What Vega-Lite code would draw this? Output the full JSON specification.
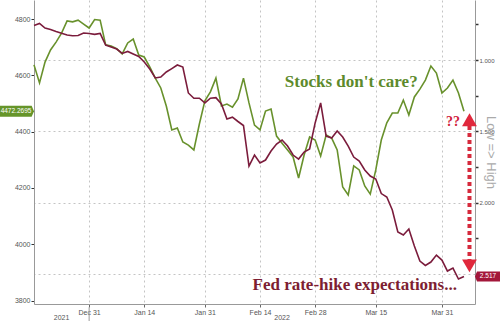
{
  "$schema": "https://vega.github.io/schema/vega-lite/v6.json",
  "width": 441,
  "height": 304,
  "autosize": "none",
  "padding": {"left": 34, "top": 0, "right": 25, "bottom": 17},
  "background": "white",
  "config": {"view": {"stroke": null}, "font": "Liberation Sans"},
  "datasets": {
    "series": [
      {"date": "2021-12-17", "spx": 4637, "hike": 0.758},
      {"date": "2021-12-20", "spx": 4573, "hike": 0.744},
      {"date": "2021-12-21", "spx": 4647, "hike": 0.776},
      {"date": "2021-12-22", "spx": 4690, "hike": 0.786},
      {"date": "2021-12-23", "spx": 4718, "hike": 0.800},
      {"date": "2021-12-24", "spx": 4750, "hike": 0.813},
      {"date": "2021-12-27", "spx": 4793, "hike": 0.825},
      {"date": "2021-12-28", "spx": 4790, "hike": 0.830},
      {"date": "2021-12-29", "spx": 4796, "hike": 0.828},
      {"date": "2021-12-30", "spx": 4782, "hike": 0.811},
      {"date": "2021-12-31", "spx": 4768, "hike": 0.814},
      {"date": "2022-01-03", "spx": 4798, "hike": 0.820},
      {"date": "2022-01-04", "spx": 4796, "hike": 0.814},
      {"date": "2022-01-05", "spx": 4708, "hike": 0.895},
      {"date": "2022-01-06", "spx": 4704, "hike": 0.909},
      {"date": "2022-01-07", "spx": 4695, "hike": 0.923},
      {"date": "2022-01-10", "spx": 4676, "hike": 0.954},
      {"date": "2022-01-11", "spx": 4715, "hike": 0.940},
      {"date": "2022-01-12", "spx": 4729, "hike": 0.958},
      {"date": "2022-01-13", "spx": 4672, "hike": 0.975},
      {"date": "2022-01-14", "spx": 4665, "hike": 1.014},
      {"date": "2022-01-17", "spx": 4630, "hike": 1.063},
      {"date": "2022-01-18", "spx": 4590, "hike": 1.126},
      {"date": "2022-01-19", "spx": 4555, "hike": 1.119},
      {"date": "2022-01-20", "spx": 4491, "hike": 1.084},
      {"date": "2022-01-21", "spx": 4406, "hike": 1.060},
      {"date": "2022-01-24", "spx": 4413, "hike": 1.035},
      {"date": "2022-01-25", "spx": 4363, "hike": 1.049},
      {"date": "2022-01-26", "spx": 4352, "hike": 1.231},
      {"date": "2022-01-27", "spx": 4335, "hike": 1.268},
      {"date": "2022-01-28", "spx": 4427, "hike": 1.268},
      {"date": "2022-01-31", "spx": 4509, "hike": 1.301},
      {"date": "2022-02-01", "spx": 4541, "hike": 1.268},
      {"date": "2022-02-02", "spx": 4590, "hike": 1.264},
      {"date": "2022-02-03", "spx": 4491, "hike": 1.308},
      {"date": "2022-02-04", "spx": 4498, "hike": 1.413},
      {"date": "2022-02-07", "spx": 4487, "hike": 1.401},
      {"date": "2022-02-08", "spx": 4516, "hike": 1.431},
      {"date": "2022-02-09", "spx": 4590, "hike": 1.459},
      {"date": "2022-02-10", "spx": 4502, "hike": 1.743},
      {"date": "2022-02-11", "spx": 4423, "hike": 1.666},
      {"date": "2022-02-14", "spx": 4406, "hike": 1.722},
      {"date": "2022-02-15", "spx": 4473, "hike": 1.701},
      {"date": "2022-02-16", "spx": 4480, "hike": 1.638},
      {"date": "2022-02-17", "spx": 4384, "hike": 1.589},
      {"date": "2022-02-18", "spx": 4359, "hike": 1.561},
      {"date": "2022-02-21", "spx": 4335, "hike": 1.603},
      {"date": "2022-02-22", "spx": 4310, "hike": 1.666},
      {"date": "2022-02-23", "spx": 4235, "hike": 1.694},
      {"date": "2022-02-24", "spx": 4317, "hike": 1.645},
      {"date": "2022-02-25", "spx": 4381, "hike": 1.624},
      {"date": "2022-02-28", "spx": 4370, "hike": 1.441},
      {"date": "2022-03-01", "spx": 4313, "hike": 1.301},
      {"date": "2022-03-02", "spx": 4388, "hike": 1.533},
      {"date": "2022-03-03", "spx": 4377, "hike": 1.547},
      {"date": "2022-03-04", "spx": 4335, "hike": 1.498},
      {"date": "2022-03-07", "spx": 4203, "hike": 1.540},
      {"date": "2022-03-08", "spx": 4175, "hike": 1.603},
      {"date": "2022-03-09", "spx": 4278, "hike": 1.680},
      {"date": "2022-03-10", "spx": 4264, "hike": 1.708},
      {"date": "2022-03-11", "spx": 4207, "hike": 1.771},
      {"date": "2022-03-14", "spx": 4178, "hike": 1.813},
      {"date": "2022-03-15", "spx": 4264, "hike": 1.834},
      {"date": "2022-03-16", "spx": 4370, "hike": 1.936},
      {"date": "2022-03-17", "spx": 4431, "hike": 1.960},
      {"date": "2022-03-18", "spx": 4466, "hike": 2.051},
      {"date": "2022-03-21", "spx": 4466, "hike": 2.205},
      {"date": "2022-03-22", "spx": 4512, "hike": 2.226},
      {"date": "2022-03-23", "spx": 4459, "hike": 2.184},
      {"date": "2022-03-24", "spx": 4523, "hike": 2.303},
      {"date": "2022-03-25", "spx": 4551, "hike": 2.409},
      {"date": "2022-03-28", "spx": 4583, "hike": 2.440},
      {"date": "2022-03-29", "spx": 4633, "hike": 2.416},
      {"date": "2022-03-30", "spx": 4608, "hike": 2.367},
      {"date": "2022-03-31", "spx": 4537, "hike": 2.402},
      {"date": "2022-04-01", "spx": 4555, "hike": 2.479},
      {"date": "2022-04-04", "spx": 4583, "hike": 2.458},
      {"date": "2022-04-05", "spx": 4537, "hike": 2.535},
      {"date": "2022-04-06", "spx": 4472.27, "hike": 2.517}
    ]
  },
  "layer": [
    {
      "layer": [
        {
          "data": {"name": "series"},
          "mark": {"type": "line", "color": "#68912c", "strokeWidth": 1.6},
          "encoding": {
            "x": {
              "field": "date", "type": "ordinal", "title": null,
              "scale": {"type": "point", "padding": 0, "domain": [
                "2021-12-17","2021-12-20","2021-12-21","2021-12-22","2021-12-23","2021-12-24","2021-12-27","2021-12-28","2021-12-29","2021-12-30","2021-12-31",
                "2022-01-03","2022-01-04","2022-01-05","2022-01-06","2022-01-07","2022-01-10","2022-01-11","2022-01-12","2022-01-13","2022-01-14","2022-01-17","2022-01-18","2022-01-19","2022-01-20","2022-01-21","2022-01-24","2022-01-25","2022-01-26","2022-01-27","2022-01-28","2022-01-31",
                "2022-02-01","2022-02-02","2022-02-03","2022-02-04","2022-02-07","2022-02-08","2022-02-09","2022-02-10","2022-02-11","2022-02-14","2022-02-15","2022-02-16","2022-02-17","2022-02-18","2022-02-21","2022-02-22","2022-02-23","2022-02-24","2022-02-25","2022-02-28",
                "2022-03-01","2022-03-02","2022-03-03","2022-03-04","2022-03-07","2022-03-08","2022-03-09","2022-03-10","2022-03-11","2022-03-14","2022-03-15","2022-03-16","2022-03-17","2022-03-18","2022-03-21","2022-03-22","2022-03-23","2022-03-24","2022-03-25","2022-03-28","2022-03-29","2022-03-30","2022-03-31",
                "2022-04-01","2022-04-04","2022-04-05","2022-04-06","2022-04-07","2022-04-08"]},
              "axis": {
                "title": null,
                "values": ["2021-12-31","2022-01-14","2022-01-31","2022-02-14","2022-02-28","2022-03-15","2022-03-31"],
                "labelExpr": "utcFormat(toDate(datum.value), '%b %d')",
                "labelAngle": 0, "labelFontSize": 7, "labelColor": "#555", "labelPadding": 1,
                "tickSize": 3, "tickColor": "#666", "domainColor": "#999",
                "grid": true, "gridDash": [2, 3], "gridColor": "#c4c4c4"
              }
            },
            "y": {
              "field": "spx", "type": "quantitative", "title": null,
              "scale": {"domain": [3787.6, 4867.5], "nice": false, "zero": false},
              "axis": {
                "title": null,
                "values": [3800, 3900, 4000, 4100, 4200, 4300, 4400, 4500, 4600, 4700, 4800],
                "labelExpr": "datum.value % 200 === 0 ? format(datum.value, 'd') : ''",
                "labelFontSize": 7, "labelColor": "#555", "labelPadding": 1,
                "tickSize": 3, "tickColor": "#333", "domainColor": "#999",
                "grid": false
              }
            }
          }
        },
        {
          "data": {"values": [{"date": "2021-12-31", "spx": 3776, "spx2": 3727}]},
          "mark": {"type": "rule", "color": "#999", "strokeWidth": 1},
          "encoding": {
            "x": {"field": "date", "type": "ordinal", "title": null},
            "y": {"field": "spx", "type": "quantitative", "title": null},
            "y2": {"field": "spx2"}
          }
        },
        {
          "data": {"values": [{"date": "2021-12-24", "spx": 3738, "label": "2021"}, {"date": "2022-02-18", "spx": 3738, "label": "2022"}]},
          "mark": {"type": "text", "fontSize": 7, "color": "#555", "align": "center", "baseline": "middle"},
          "encoding": {
            "x": {"field": "date", "type": "ordinal", "title": null},
            "y": {"field": "spx", "type": "quantitative", "title": null},
            "text": {"field": "label"}
          }
        },
        {
          "data": {"values": [{"date": "2022-03-08", "spx": 4576, "label": "Stocks don't care?"}]},
          "mark": {"type": "text", "font": "Liberation Serif", "fontWeight": "bold", "fontSize": 17, "color": "#5d8a2c", "align": "center", "baseline": "middle", "dx": 3},
          "encoding": {
            "x": {"field": "date", "type": "ordinal", "title": null},
            "y": {"field": "spx", "type": "quantitative", "title": null},
            "text": {"field": "label"}
          }
        },
        {
          "data": {"values": [{"date": "2022-03-09", "spx": 3855, "label": "Fed rate-hike expectations..."}]},
          "mark": {"type": "text", "font": "Liberation Serif", "fontWeight": "bold", "fontSize": 17, "color": "#7d1e32", "align": "center", "baseline": "middle", "dx": 1},
          "encoding": {
            "x": {"field": "date", "type": "ordinal", "title": null},
            "y": {"field": "spx", "type": "quantitative", "title": null},
            "text": {"field": "label"}
          }
        },
        {
          "data": {"values": [{"date": "2022-04-04", "spx": 4434, "label": "??"}]},
          "mark": {"type": "text", "font": "Liberation Serif", "fontWeight": "bold", "fontSize": 14, "color": "#d0213a", "align": "center", "baseline": "middle"},
          "encoding": {
            "x": {"field": "date", "type": "ordinal", "title": null},
            "y": {"field": "spx", "type": "quantitative", "title": null},
            "text": {"field": "label"}
          }
        },
        {
          "data": {"values": [{"date": "2022-04-07", "spx": 4420, "spx2": 3944}]},
          "mark": {"type": "rule", "color": "#d62a3c", "strokeWidth": 4, "strokeDash": [4, 3], "strokeCap": "butt"},
          "encoding": {
            "x": {"field": "date", "type": "ordinal", "title": null},
            "y": {"field": "spx", "type": "quantitative", "title": null},
            "y2": {"field": "spx2"}
          }
        },
        {
          "data": {"values": [{"date": "2022-04-07", "spx": 4442}]},
          "mark": {"type": "point", "shape": "triangle-up", "size": 220, "filled": true, "color": "#e0283c", "opacity": 1},
          "encoding": {
            "x": {"field": "date", "type": "ordinal", "title": null},
            "y": {"field": "spx", "type": "quantitative", "title": null}
          }
        },
        {
          "data": {"values": [{"date": "2022-04-07", "spx": 3923}]},
          "mark": {"type": "point", "shape": "triangle-down", "size": 220, "filled": true, "color": "#e0283c", "opacity": 1},
          "encoding": {
            "x": {"field": "date", "type": "ordinal", "title": null},
            "y": {"field": "spx", "type": "quantitative", "title": null}
          }
        },
        {
          "data": {"values": [{"date": "2021-12-17", "spx": 4472.27, "label": "4472.2695"}]},
          "mark": {"type": "point", "shape": "M-1,-0.33L0.86,-0.33L1,0L0.86,0.33L-1,0.33Z", "size": 1156, "filled": true, "color": "#66952a", "opacity": 1, "xOffset": -17},
          "encoding": {
            "x": {"field": "date", "type": "ordinal", "title": null},
            "y": {"field": "spx", "type": "quantitative", "title": null}
          }
        },
        {
          "data": {"values": [{"date": "2021-12-17", "spx": 4472.27, "label": "4472.2695"}]},
          "mark": {"type": "text", "fontSize": 6.5, "color": "white", "align": "center", "baseline": "middle", "dx": -18},
          "encoding": {
            "x": {"field": "date", "type": "ordinal", "title": null},
            "y": {"field": "spx", "type": "quantitative", "title": null},
            "text": {"field": "label"}
          }
        }
      ]
    },
    {
      "layer": [
        {
          "data": {"name": "series"},
          "mark": {"type": "line", "color": "#7b1c3c", "strokeWidth": 1.6},
          "encoding": {
            "x": {"field": "date", "type": "ordinal", "title": null},
            "y": {
              "field": "hike", "type": "quantitative", "title": "Low => High",
              "scale": {"domain": [0.5795, 2.71], "reverse": true, "nice": false, "zero": false},
              "axis": {
                "orient": "right",
                "title": "Low => High",
                "titleX": 15, "titleY": 152, "titleAngle": 90,
                "titleAlign": "center", "titleBaseline": "middle",
                "titleColor": "#aaa", "titleFontSize": 13, "titleFontWeight": "normal",
                "values": [0.75, 1, 1.25, 1.5, 1.75, 2, 2.25, 2.5],
                "labelExpr": "(datum.value % 0.5 === 0 && datum.value < 2.4) ? format(datum.value, '.3f') : ''",
                "labelFontSize": 6, "labelColor": "#555", "labelPadding": 1,
                "tickSize": 3, "tickWidth": 1.5, "tickColor": "#333", "domainColor": "#999",
                "grid": true, "gridDash": [2, 3], "gridColor": "#c4c4c4",
                "gridOpacity": {"condition": {"test": "datum.value % 0.5 === 0", "value": 1}, "value": 0}
              }
            }
          }
        },
        {
          "data": {"values": [{"date": "2022-04-08", "hike": 2.517, "label": "2.517"}]},
          "mark": {"type": "point", "shape": "M-1,0L-0.84,-0.4L1,-0.4L1,0.4L-0.84,0.4Z", "size": 625, "filled": true, "color": "#a3173a", "opacity": 1, "xOffset": 12.5},
          "encoding": {
            "x": {"field": "date", "type": "ordinal", "title": null},
            "y": {"field": "hike", "type": "quantitative", "title": "Low => High"}
          }
        },
        {
          "data": {"values": [{"date": "2022-04-08", "hike": 2.517, "label": "2.517"}]},
          "mark": {"type": "text", "fontSize": 6.5, "color": "white", "align": "center", "baseline": "middle", "dx": 13},
          "encoding": {
            "x": {"field": "date", "type": "ordinal", "title": null},
            "y": {"field": "hike", "type": "quantitative", "title": "Low => High"},
            "text": {"field": "label"}
          }
        }
      ]
    }
  ],
  "resolve": {"scale": {"y": "independent"}, "axis": {"y": "independent"}}
}
